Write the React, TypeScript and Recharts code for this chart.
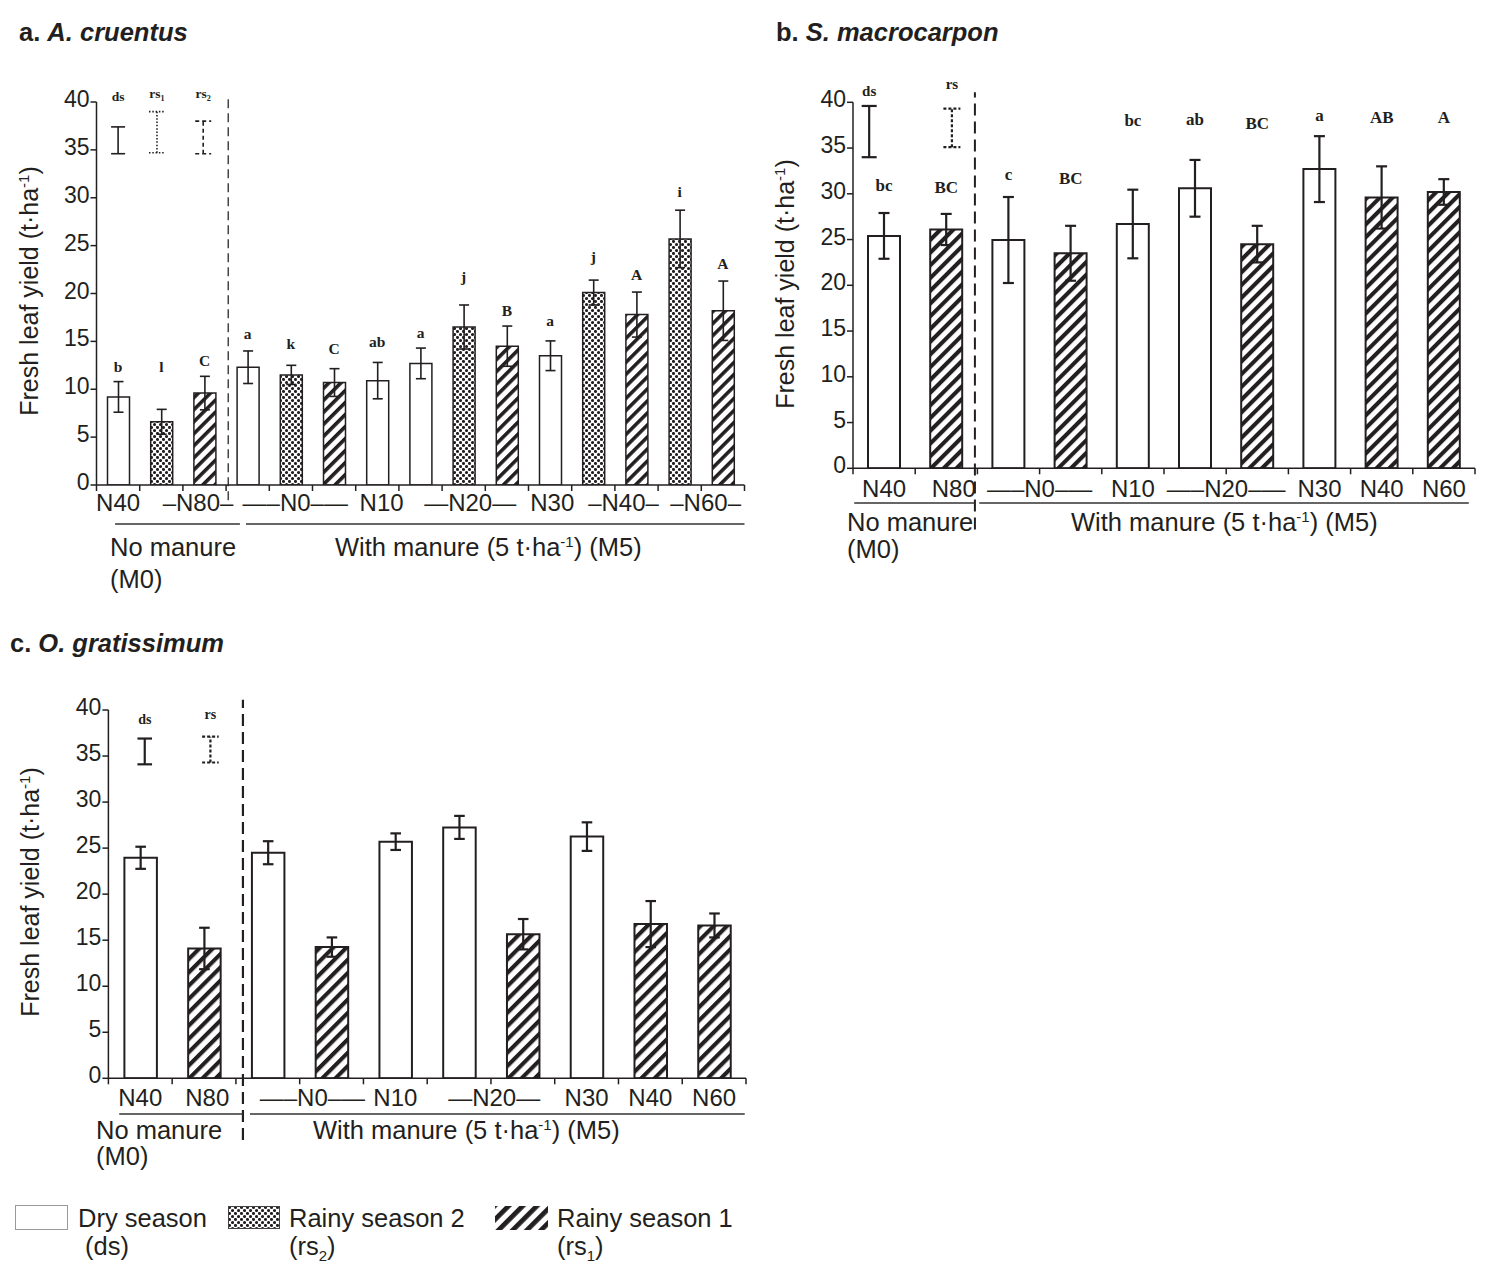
import React from 'react';
import {
  ComposedChart,
  Bar,
  Line,
  Scatter,
  XAxis,
  YAxis,
  ErrorBar,
  Cell,
  LabelList,
  ReferenceLine,
  ReferenceDot,
} from 'recharts';

const SANS = '"Liberation Sans", Arial, Helvetica, sans-serif';
const SERIF = '"Liberation Serif", "Times New Roman", serif';
const INK = '#231f20';

const Y_TICKS = [0, 5, 10, 15, 20, 25, 30, 35, 40];

// a. A. cruentus
const A_SEASON = ['ds', 'rs2', 'rs1', 'ds', 'rs2', 'rs1', 'ds', 'ds', 'rs2', 'rs1', 'ds', 'rs2', 'rs1', 'rs2', 'rs1'];
const A_YIELD = [9.2, 6.6, 9.6, 12.3, 11.5, 10.7, 10.9, 12.7, 16.5, 14.5, 13.5, 20.1, 17.8, 25.7, 18.2];
const A_SE = [1.6, 1.3, 1.75, 1.7, 1.0, 1.45, 1.9, 1.6, 2.3, 2.1, 1.55, 1.3, 2.35, 3.0, 3.1];
const A_LETTER = ['b', 'l', 'C', 'a', 'k', 'C', 'ab', 'a', 'j', 'B', 'a', 'j', 'A', 'i', 'A'];
const A_LETTER_AT = [11.8, 11.8, 12.4, 15.3, 14.2, 13.7, 14.4, 15.4, 21.2, 17.6, 16.6, 23.3, 21.4, 30.1, 22.6];
const A_TICK = ['N40', '–N80–', '—–N0–—', 'N10', '—N20—', 'N30', '–N40–', '–N60–'];
const A_TICK_AT = [0, 1.85, 4.1, 6.1, 8.15, 10.05, 11.7, 13.6];
const A_LSD = [
  { tag: 'ds', at: 0, lo: 34.6, hi: 37.4, tagAt: 40.1 },
  { tag: 'rs1', at: 0.9, lo: 34.7, hi: 39.0, tagAt: 40.4 },
  { tag: 'rs2', at: 1.97, lo: 34.6, hi: 38.0, tagAt: 40.4 },
];

// b. S. macrocarpon
const B_SEASON = ['ds', 'rs1', 'ds', 'rs1', 'ds', 'ds', 'rs1', 'ds', 'rs1', 'rs1'];
const B_YIELD = [25.4, 26.1, 24.95, 23.5, 26.7, 30.6, 24.5, 32.7, 29.6, 30.2];
const B_SE = [2.5, 1.7, 4.7, 3.0, 3.75, 3.1, 2.0, 3.6, 3.4, 1.4];
const B_LETTER = ['bc', 'BC', 'c', 'BC', 'bc', 'ab', 'BC', 'a', 'AB', 'A'];
const B_LETTER_AT = [30.3, 30.1, 31.5, 31.1, 37.4, 37.5, 37.05, 38.0, 37.7, 37.7];
const B_TICK = ['N40', 'N80', '—–N0–—', 'N10', '—–N20–—', 'N30', 'N40', 'N60'];
const B_TICK_AT = [0, 1.12, 2.5, 4, 5.5, 7, 8, 9];
const B_LSD = [
  { tag: 'ds', at: -0.24, lo: 34.0, hi: 39.6, tagAt: 40.7 },
  { tag: 'rs', at: 1.09, lo: 35.1, hi: 39.3, tagAt: 41.5 },
];

// c. O. gratissimum
const C_SEASON = ['ds', 'rs1', 'ds', 'rs1', 'ds', 'ds', 'rs1', 'ds', 'rs1', 'rs1'];
const C_YIELD = [23.95, 14.1, 24.5, 14.25, 25.7, 27.25, 15.65, 26.25, 16.75, 16.6];
const C_SE = [1.2, 2.25, 1.25, 1.05, 0.9, 1.25, 1.65, 1.55, 2.5, 1.3];
const C_TICK = ['N40', 'N80', '—–N0–—', 'N10', '—N20—', 'N30', 'N40', 'N60'];
const C_TICK_AT = [0, 1.05, 2.7, 4, 5.55, 7, 8, 9];
const C_LSD = [
  { tag: 'ds', at: 0.07, lo: 34.1, hi: 36.9, tagAt: 38.5 },
  { tag: 'rs', at: 1.1, lo: 34.3, hi: 37.1, tagAt: 39.0 },
];

const LSD_DASH: Record<string, string | undefined> = {
  ds: undefined,
  rs1: '1.5 1.8',
  rs2: '4 3',
  rs: '3 2',
};

interface Lsd { tag: string; at: number; lo: number; hi: number; tagAt: number }

interface PanelSpec {
  id: string;
  season: string[];
  yields: number[];
  se: number[];
  letters?: string[];
  letterAt?: number[];
  tickText: string[];
  tickAt: number[];
  lsd: Lsd[];
  box: { left: number; top: number; width: number; height: number };
  margin: { top: number; right: number; bottom: number; left: number };
  barSize: number;
  barStroke: number;
  errStroke: number;
  cap: number;
  labelDy: number;
  letterSize: number;
  tagSize: number;
  divider: { x: number; lo: number; hi: number; dash: string; color: string; width: number };
  brackets: { y: number; spans: [number, number][] };
}

const PANELS: PanelSpec[] = [
  {
    id: 'a',
    season: A_SEASON, yields: A_YIELD, se: A_SE, letters: A_LETTER, letterAt: A_LETTER_AT,
    tickText: A_TICK, tickAt: A_TICK_AT, lsd: A_LSD,
    box: { left: 0, top: 0, width: 760, height: 600 },
    margin: { top: 102, right: 15.5, bottom: 85, left: 36.5 },
    barSize: 22, barStroke: 1.5, errStroke: 1.6, cap: 5, labelDy: 26, letterSize: 15.5, tagSize: 13.5,
    divider: { x: 2.55, lo: -1.6, hi: 40.7, dash: '9 5', color: '#444', width: 1.5 },
    brackets: { y: -4.07, spans: [[-0.07, 2.82], [2.96, 14.5]] },
  },
  {
    id: 'b',
    season: B_SEASON, yields: B_YIELD, se: B_SE, letters: B_LETTER, letterAt: B_LETTER_AT,
    tickText: B_TICK, tickAt: B_TICK_AT, lsd: B_LSD,
    box: { left: 760, top: 0, width: 730, height: 600 },
    margin: { top: 102.3, right: 15, bottom: 101.7, left: 33 },
    barSize: 32, barStroke: 2, errStroke: 2.2, cap: 5.5, labelDy: 29, letterSize: 17, tagSize: 15,
    divider: { x: 1.46, lo: -6.7, hi: 41.1, dash: '12 6', color: INK, width: 2 },
    brackets: { y: -3.8, spans: [[-0.48, 1.45], [1.53, 9.4]] },
  },
  {
    id: 'c',
    season: C_SEASON, yields: C_YIELD, se: C_SE,
    tickText: C_TICK, tickAt: C_TICK_AT, lsd: C_LSD,
    box: { left: 0, top: 600, width: 760, height: 580 },
    margin: { top: 110, right: 14, bottom: 71.7, left: 48.4 },
    barSize: 32.5, barStroke: 2, errStroke: 2.2, cap: 5.3, labelDy: 27.5, letterSize: 15, tagSize: 14,
    divider: { x: 1.61, lo: -6.7, hi: 41.1, dash: '12 6', color: INK, width: 2.2 },
    brackets: { y: -3.88, spans: [[-0.33, 1.61], [1.72, 9.48]] },
  },
];

const noShape = () => <g />;

function LsdTag(props: any) {
  const { viewBox, tag, size } = props;
  if (!viewBox) return null;
  const base = String(tag).replace(/\d/g, '');
  const sub = String(tag).replace(/\D/g, '');
  return (
    <text x={viewBox.x} y={viewBox.y} textAnchor="middle" fontFamily={SERIF} fontWeight="bold" fontSize={size} fill={INK}>
      {base}
      {sub && (
        <tspan fontSize={size * 0.6} dy={3}>
          {sub}
        </tspan>
      )}
    </text>
  );
}

function Panel({ p }: { p: PanelSpec }) {
  const n = p.yields.length;
  const rows = p.yields.map((v, i) => ({
    pos: i,
    y: v,
    se: p.se[i],
    letter: p.letters ? p.letters[i] : null,
    letterAt: p.letterAt ? p.letterAt[i] : null,
  }));
  const bounds = Array.from({ length: n + 1 }, (_, k) => k - 0.5);
  const boundSet = new Set(bounds);
  const labelMap = new Map(p.tickAt.map((v, i) => [v, p.tickText[i]] as [number, string]));
  const ticks = Array.from(new Set([...bounds, ...p.tickAt])).sort((a, b) => a - b);
  const fills: Record<string, string> = {
    ds: '#fff',
    rs1: `url(#hatch-${p.id})`,
    rs2: `url(#dots-${p.id})`,
  };

  const renderXTick = (props: any) => {
    const { x, y, payload } = props;
    const v = payload.value;
    return (
      <g>
        {boundSet.has(v) && <line x1={x} x2={x} y1={y} y2={y + 6} stroke={INK} strokeWidth={1.5} />}
        {labelMap.has(v) && (
          <text x={x} y={y + p.labelDy} textAnchor="middle" fontFamily={SANS} fontSize={24} fill={INK}>
            {labelMap.get(v)}
          </text>
        )}
      </g>
    );
  };

  const renderYTick = (props: any) => (
    <text x={props.x} y={props.y} dy={5} textAnchor="end" fontFamily={SANS} fontSize={23} fill={INK}>
      {props.payload.value}
    </text>
  );

  const renderLetter = (props: any) => {
    const vb = props.viewBox || {};
    const x = vb.x ?? props.x;
    const y = vb.y ?? props.y;
    if (props.value == null || x == null || y == null) return null;
    return (
      <text x={x} y={y} textAnchor="middle" fontFamily={SERIF} fontWeight="bold" fontSize={p.letterSize} fill={INK}>
        {props.value}
      </text>
    );
  };

  const xDomain: [number, number] = [-0.5, n - 0.5];

  return (
    <div style={{ position: 'absolute', left: p.box.left, top: p.box.top }}>
      <ComposedChart width={p.box.width} height={p.box.height} data={rows} margin={p.margin}>
        <XAxis
          type="number"
          dataKey="pos"
          domain={xDomain}
          allowDataOverflow
          ticks={ticks}
          interval={0}
          tickSize={0}
          tickMargin={0}
          tickLine={false}
          axisLine={{ stroke: INK, strokeWidth: 1.5 }}
          tick={renderXTick}
          height={30}
        />
        {/* separate hidden axis so the LSD markers don't squeeze the bar band */}
        <XAxis xAxisId="lsd" type="number" dataKey="pos" domain={xDomain} allowDataOverflow hide />
        <YAxis
          type="number"
          domain={[0, 40]}
          allowDataOverflow
          ticks={Y_TICKS}
          interval={0}
          width={60}
          tickSize={6}
          tickMargin={1}
          axisLine={{ stroke: INK, strokeWidth: 1.5 }}
          tickLine={{ stroke: INK, strokeWidth: 1.5 }}
          tick={renderYTick}
        />
        <Bar dataKey="y" barSize={p.barSize} stroke={INK} strokeWidth={p.barStroke} isAnimationActive={false}>
          {rows.map((r, i) => (
            <Cell key={r.pos} fill={fills[p.season[i]]} />
          ))}
          <ErrorBar dataKey="se" direction="y" width={p.cap} stroke={INK} strokeWidth={p.errStroke} />
        </Bar>
        {p.letters && (
          <Line
            dataKey="letterAt"
            stroke="none"
            dot={false}
            activeDot={false}
            legendType="none"
            isAnimationActive={false}
          >
            <LabelList dataKey="letter" content={renderLetter} />
          </Line>
        )}
        {p.lsd.map((m) => (
          <Scatter
            key={m.tag}
            xAxisId="lsd"
            data={[{ pos: m.at, top: m.hi, span: [m.hi - m.lo, 0] }]}
            dataKey="top"
            shape={noShape}
            legendType="none"
            isAnimationActive={false}
          >
            <ErrorBar
              dataKey="span"
              direction="y"
              width={m.tag === 'ds' ? p.cap + 2 : p.cap + 3}
              stroke={INK}
              strokeWidth={p.errStroke}
              strokeDasharray={LSD_DASH[m.tag]}
            />
          </Scatter>
        ))}
        {p.lsd.map((m) => (
          <ReferenceDot
            key={`tag-${m.tag}`}
            xAxisId="lsd"
            x={m.at}
            y={m.tagAt}
            r={0}
            fill="none"
            stroke="none"
            ifOverflow="visible"
            label={<LsdTag tag={m.tag} size={p.tagSize} />}
          />
        ))}
        <ReferenceLine
          segment={[
            { x: p.divider.x, y: p.divider.lo },
            { x: p.divider.x, y: p.divider.hi },
          ]}
          stroke={p.divider.color}
          strokeWidth={p.divider.width}
          strokeDasharray={p.divider.dash}
          ifOverflow="visible"
        />
        {p.brackets.spans.map(([x0, x1], i) => (
          <ReferenceLine
            key={`br-${i}`}
            segment={[
              { x: x0, y: p.brackets.y },
              { x: x1, y: p.brackets.y },
            ]}
            stroke="#333"
            strokeWidth={1.5}
            ifOverflow="visible"
          />
        ))}
      </ComposedChart>
    </div>
  );
}

function YTitle({ cx, cy }: { cx: number; cy: number }) {
  return (
    <text
      transform={`translate(${cx},${cy}) rotate(-90)`}
      textAnchor="middle"
      dy="0.35em"
      fontFamily={SANS}
      fontSize={25}
      fill={INK}
    >
      Fresh leaf yield (t·ha
      <tspan dy={-9} fontSize={15}>
        -1
      </tspan>
      <tspan dy={9}>)</tspan>
    </text>
  );
}

function Captions({ x0, x1, y, y2 }: { x0: number; x1: number; y: number; y2: number }) {
  return (
    <g fontFamily={SANS} fontSize={25.5} fill={INK}>
      <text x={x0} y={y}>No manure</text>
      <text x={x0} y={y2}>(M0)</text>
      <text x={x1} y={y}>
        With manure (5 t·ha
        <tspan dy={-9} fontSize={15}>
          -1
        </tspan>
        <tspan dy={9}>) (M5)</tspan>
      </text>
    </g>
  );
}

function Patterns() {
  const hatch = (id: string, period: number, thick: number) => (
    <pattern id={id} patternUnits="userSpaceOnUse" width={period} height={period} patternTransform="rotate(45)">
      <rect width={period} height={period} fill="#fff" />
      <rect width={thick} height={period} fill={INK} />
    </pattern>
  );
  // staggered stipple for the second rainy season
  const dots = (id: string) => (
    <pattern id={id} patternUnits="userSpaceOnUse" width={6} height={6}>
      <rect width={6} height={6} fill="#fff" />
      <circle cx={1.5} cy={1.5} r={1.55} fill={INK} />
      <circle cx={4.5} cy={4.5} r={1.55} fill={INK} />
    </pattern>
  );
  return (
    <defs>
      {hatch('hatch-a', 8.5, 3.6)}
      {hatch('hatch-b', 9, 4.1)}
      {hatch('hatch-c', 9.4, 4.1)}
      {hatch('hatch-key', 10, 4.8)}
      {dots('dots-a')}
      {dots('dots-key')}
    </defs>
  );
}

function Overlay() {
  return (
    <svg width={1490} height={1274} style={{ position: 'absolute', left: 0, top: 0, pointerEvents: 'none' }}>
      <Patterns />
      <g fontFamily={SANS} fontWeight="bold" fontSize={25.5} fill={INK}>
        <text x={19} y={40.5}>
          {'a. '}
          <tspan fontStyle="italic">A. cruentus</tspan>
        </text>
        <text x={776} y={40.5}>
          {'b. '}
          <tspan fontStyle="italic">S. macrocarpon</tspan>
        </text>
        <text x={10} y={652}>
          {'c. '}
          <tspan fontStyle="italic">O. gratissimum</tspan>
        </text>
      </g>

      <YTitle cx={29.5} cy={291} />
      <YTitle cx={785} cy={284} />
      <YTitle cx={30} cy={892} />

      <Captions x0={110} x1={335} y={556} y2={588} />
      <Captions x0={847} x1={1071} y={531} y2={558} />
      <Captions x0={96} x1={313} y={1139} y2={1165} />

      {/* season key */}
      <rect x={15.5} y={1205.5} width={52} height={24} fill="#fff" stroke="#999" strokeWidth={1} />
      <rect x={228.5} y={1206.5} width={51} height={22} fill="url(#dots-key)" stroke="#444" strokeWidth={1} />
      <rect x={495} y={1206} width={53} height={24} fill="url(#hatch-key)" />
      <g fontFamily={SANS} fontSize={25.5} fill={INK}>
        <text x={78} y={1227}>Dry season</text>
        <text x={85} y={1255}>(ds)</text>
        <text x={289} y={1227}>Rainy season 2</text>
        <text x={289} y={1255}>
          (rs
          <tspan dy={6} fontSize={15}>
            2
          </tspan>
          <tspan dy={-6}>)</tspan>
        </text>
        <text x={557} y={1227}>Rainy season 1</text>
        <text x={557} y={1255}>
          (rs
          <tspan dy={6} fontSize={15}>
            1
          </tspan>
          <tspan dy={-6}>)</tspan>
        </text>
      </g>
    </svg>
  );
}

export default function App() {
  return (
    <div style={{ position: 'absolute', left: 0, top: 0, width: 1490, height: 1274, background: '#fff', overflow: 'hidden' }}>
      {PANELS.map((p) => (
        <Panel key={p.id} p={p} />
      ))}
      <Overlay />
    </div>
  );
}
